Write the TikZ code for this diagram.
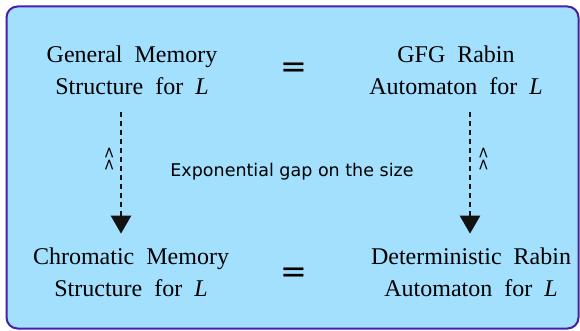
\documentclass[tikz,border=0pt]{standalone}
\usepackage{fontspec}
\setmainfont{Liberation Serif}
\newfontfamily\labelfont{DejaVu Sans}
\usetikzlibrary{arrows.meta}
\definecolor{panelfill}{RGB}{162,224,254}
\definecolor{panelrule}{RGB}{72,30,170}
\begin{document}
\begin{tikzpicture}[x=1pt,y=-1pt,
  box/.style={align=center, inner sep=0pt,
    font={\fontsize{24}{32}\selectfont\spaceskip=12pt\relax}},
  eqsign/.style={inner sep=0pt, font={\labelfont\fontsize{32}{32}\selectfont}},
  flow/.style={draw=black!93, line width=2.6pt, dash pattern=on 5.5pt off 3.5pt,
    -{Triangle[width=20pt,length=18pt]}},
  caret/.style={inner sep=0pt, font={\labelfont\fontsize{15.5}{16}\selectfont}, rotate=-90},
  note/.style={inner sep=0pt, font={\labelfont\fontsize{17.5}{20}\selectfont}}]
\useasboundingbox (0,0) rectangle (580,331);
% panel
\draw[panelrule, fill=panelfill, line width=2pt, rounded corners=11pt]
  (6.5,6.5) rectangle (578.5,328.5);
% the four statements (base anchor sits on the last line)
\node[box, anchor=base] (gm)  at (132,95)  {General Memory\\Structure for \textit{L}};
\node[box, anchor=base] (gfg) at (456,95)  {GFG Rabin\\Automaton for \textit{L}};
\node[box, anchor=base] (cm)  at (131,296) {Chromatic Memory\\Structure for \textit{L}};
\node[box, anchor=base] (dra) at (471,296) {Deterministic Rabin\\Automaton for \textit{L}};
% equivalences
\node[eqsign] (eqtop) at (294,70)  {=};
\node[eqsign] (eqbot) at (294,275) {=};
% translations
\draw[flow] ([xshift=-11pt,yshift=-16.5pt]gm.south) -- ([xshift=-10pt,yshift=13.5pt]cm.north);
\draw[flow] ([xshift=14pt,yshift=-16.5pt]gfg.south) -- ([xshift=-1pt,yshift=13.5pt]dra.north);
\node[caret] (lc) at (109,159) {<\kern-1.5pt<};
\node[caret] (rc) at (483,159) {<\kern-1.5pt<};
\node[note, anchor=base] (gap) at (292,176.7) {Exponential gap on the size};
\end{tikzpicture}
\end{document}
